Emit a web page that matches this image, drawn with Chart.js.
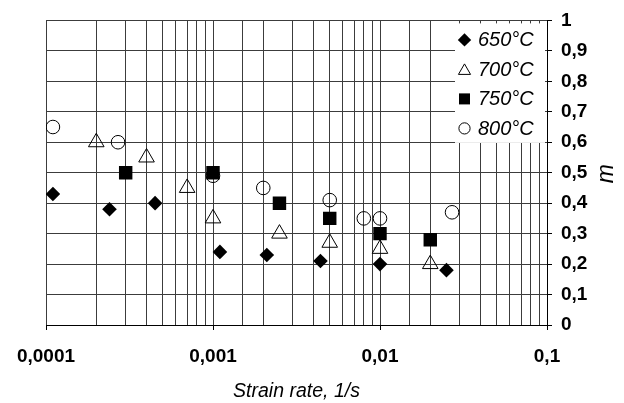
<!DOCTYPE html>
<html>
<head>
<meta charset="utf-8">
<script src="https://cdn.jsdelivr.net/npm/chart.js@4"></script>
<style>
  html, body { margin: 0; padding: 0; background: #fff; }
  canvas { display: block; }
</style>
</head>
<body>
<canvas id="mChart" width="624" height="403"></canvas>
<script>
// strain rate (1/s) and strain rate sensitivity m, per temperature
const rates650 = [0.00011, 0.00024, 0.00045, 0.0011, 0.0021, 0.0044, 0.01, 0.025]
const m650 = [0.43, 0.38, 0.40, 0.24, 0.23, 0.21, 0.20, 0.18]

const rates700 = [0.0002, 0.0004, 0.0007, 0.001, 0.0025, 0.005, 0.01, 0.02]
const m700 = [0.60, 0.55, 0.45, 0.35, 0.30, 0.27, 0.25, 0.20]

const rates750 = [0.0003, 0.001, 0.0025, 0.005, 0.01, 0.02]
const m750 = [0.50, 0.50, 0.40, 0.35, 0.30, 0.28]

const rates800 = [0.00011, 0.00027, 0.001, 0.002, 0.005, 0.008, 0.01, 0.027]
const m800 = [0.65, 0.60, 0.49, 0.45, 0.41, 0.35, 0.35, 0.37]

const seriesLabels = ['650°C', '700°C', '750°C', '800°C']
const xTickValues = [0.0001, 0.001, 0.01, 0.1]
const xTickLabels = ['0,0001', '0,001', '0,01', '0,1']
const yTickLabels = ['0', '0,1', '0,2', '0,3', '0,4', '0,5', '0,6', '0,7', '0,8', '0,9', '1']

const FONT = 'Arial, "Liberation Sans", sans-serif'
const GRID = '#3c3c3c'

const toPoints = (xs, ys) => xs.map((x, i) => ({ x: x, y: ys[i] }))

const majorIndex = (v) => xTickValues.findIndex((t) => Math.abs(Math.log10(v) - Math.log10(t)) < 1e-6)

// legend box in the top right corner + rotated axis title "m"
const extras = {
  id: 'extras',
  afterDraw(chart) {
    const ctx = chart.ctx
    const area = chart.chartArea
    const h = Chart.helpers

    ctx.save()
    const boxL = area.right - 92
    const boxT = area.top + 3
    ctx.fillStyle = '#fff'
    ctx.fillRect(boxL, boxT, area.right - 2 - boxL, area.top + 122.5 - boxT)

    const legendSizes = [6.7, 7, 7.8, 5.6]
    chart.data.datasets.forEach((ds, i) => {
      const y = area.top + 19.5 + i * 29.5
      ctx.fillStyle = ds.backgroundColor
      ctx.strokeStyle = ds.borderColor
      ctx.lineWidth = 1
      h.drawPoint(ctx, { pointStyle: ds.pointStyle, radius: legendSizes[i], rotation: 0, borderWidth: ds.borderWidth }, boxL + 9.5, y + (i === 1 ? 1.5 : 0))
      ctx.fillStyle = '#000'
      ctx.font = 'italic 20px ' + FONT
      ctx.textAlign = 'left'
      ctx.textBaseline = 'middle'
      ctx.fillText(ds.label, boxL + 23, y + 1)
    })

    ctx.translate(607, (area.top + area.bottom) / 2 + 1)
    ctx.rotate(-Math.PI / 2)
    ctx.fillStyle = '#000'
    ctx.font = 'italic 23px ' + FONT
    ctx.textAlign = 'center'
    ctx.textBaseline = 'middle'
    ctx.fillText('m', 0, 0)
    ctx.restore()
  }
}

new Chart(document.getElementById('mChart'), {
  type: 'scatter',
  data: {
    datasets: [{
      label: seriesLabels[0],
      data: toPoints(rates650, m650),
      pointStyle: 'rectRot',
      pointRadius: 7.3,
      backgroundColor: '#000',
      borderColor: '#000',
      borderWidth: 0
    },
    {
      label: seriesLabels[1],
      data: toPoints(rates700, m700),
      pointStyle: 'triangle',
      pointRadius: 9,
      backgroundColor: 'rgba(0,0,0,0)',
      borderColor: '#000',
      borderWidth: 1
    },
    {
      label: seriesLabels[2],
      data: toPoints(rates750, m750),
      pointStyle: 'rect',
      pointRadius: 9.5,
      backgroundColor: '#000',
      borderColor: '#000',
      borderWidth: 0
    },
    {
      label: seriesLabels[3],
      data: toPoints(rates800, m800),
      pointStyle: 'circle',
      pointRadius: 6.8,
      backgroundColor: 'rgba(0,0,0,0)',
      borderColor: '#000',
      borderWidth: 1
    }]
  },
  options: {
    responsive: false,
    animation: false,
    devicePixelRatio: 1,
    layout: {
      padding: { left: 46, top: 17, right: 0, bottom: 0 }
    },
    elements: {
      point: { hoverRadius: 0 }
    },
    plugins: {
      legend: { display: false },
      tooltip: { enabled: false }
    },
    scales: {
      x: {
        type: 'logarithmic',
        position: 'bottom',
        min: 0.0001,
        max: 0.1,
        afterFit: (scale) => { scale.height = 78 },
        grid: {
          color: GRID,
          lineWidth: 1,
          tickLength: 5,
          tickColor: (c) => (c.tick && majorIndex(c.tick.value) >= 0 ? '#000' : 'rgba(0,0,0,0)')
        },
        border: { display: true, color: '#000' },
        ticks: {
          autoSkip: false,
          maxRotation: 0,
          padding: 15,
          color: '#000',
          font: { family: FONT, size: 19, weight: 'bold' },
          callback: (v) => {
            const k = majorIndex(v)
            return k >= 0 ? xTickLabels[k] : ''
          }
        },
        title: {
          display: true,
          text: 'Strain rate, 1/s',
          color: '#000',
          font: { family: FONT, size: 19.5, style: 'italic' },
          padding: { top: 0, bottom: 0 }
        }
      },
      y: {
        position: 'right',
        min: 0,
        max: 1,
        afterFit: (scale) => { scale.width = 77 },
        grid: {
          color: GRID,
          lineWidth: 1,
          tickLength: 5,
          tickColor: '#000'
        },
        border: { display: true, color: '#000' },
        ticks: {
          stepSize: 0.1,
          padding: 9,
          color: '#000',
          font: { family: FONT, size: 19, weight: 'bold' },
          callback: (v, i) => yTickLabels[i]
        }
      }
    }
  },
  plugins: [extras]
})
</script>
</body>
</html>
